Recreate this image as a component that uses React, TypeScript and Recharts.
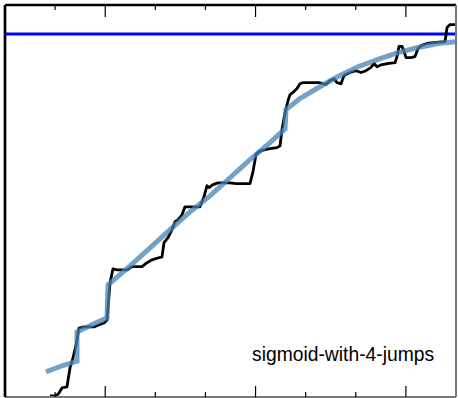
import React from 'react';
import { LineChart, Line, XAxis, YAxis, ReferenceLine } from 'recharts';

// Noisy step series (black)
const stepX = [
  0.898, 1.018, 1.078, 1.137, 1.237, 1.297, 1.357, 1.417, 1.477, 1.577, 1.776, 1.876, 1.976, 2.036,
  2.095, 2.155, 2.235, 2.435, 2.534, 2.734, 2.834, 2.934, 3.053, 3.133, 3.173, 3.253, 3.333, 3.393,
  3.452, 3.532, 3.592, 3.891, 3.971, 4.031, 4.071, 4.151, 4.251, 4.49, 4.61, 4.889, 4.949, 5.009,
  5.069, 5.169, 5.288, 5.428, 5.488, 5.528, 5.588, 5.648, 5.688, 5.747, 5.827, 5.887, 5.947, 6.266,
  6.406, 6.486, 6.566, 6.625, 6.705, 6.765, 6.885, 7.005, 7.104, 7.204, 7.304, 7.364, 7.424, 7.523,
  7.663, 7.783, 7.823, 7.863, 7.923, 7.963, 8.003, 8.102, 8.182, 8.242, 8.302, 8.422, 8.601, 8.781,
  8.821, 8.881, 9.0,
];
const stepY = [
  0.003, 0.003, 0.011, 0.025, 0.028, 0.08, 0.108, 0.143, 0.19, 0.193, 0.193, 0.199, 0.204, 0.212,
  0.314, 0.353, 0.35, 0.35, 0.359, 0.359, 0.37, 0.378, 0.383, 0.386, 0.425, 0.439, 0.461, 0.483,
  0.488, 0.502, 0.524, 0.524, 0.552, 0.582, 0.577, 0.585, 0.59, 0.59, 0.588, 0.588, 0.621, 0.668,
  0.676, 0.681, 0.684, 0.687, 0.692, 0.737, 0.783, 0.817, 0.833, 0.839, 0.85, 0.863, 0.866, 0.866,
  0.861, 0.872, 0.877, 0.866, 0.863, 0.886, 0.894, 0.899, 0.894, 0.899, 0.908, 0.919, 0.91, 0.916,
  0.919, 0.921, 0.938, 0.966, 0.966, 0.952, 0.935, 0.935, 0.938, 0.96, 0.968, 0.974, 0.977, 0.979,
  1.018, 1.026, 1.026,
];

// Sigmoid with jumps (light blue)
const fitX = [
  0.818, 1.137, 1.437, 1.437, 1.736, 2.036, 2.056, 2.495, 2.894, 3.293, 3.692, 4.091, 4.49, 4.889,
  5.288, 5.588, 5.608, 5.887, 6.246, 6.645, 7.044, 7.444, 7.843, 8.242, 8.641, 9.0,
];
const fitY = [
  0.069, 0.086, 0.099, 0.179, 0.199, 0.218, 0.309, 0.361, 0.411, 0.461, 0.51, 0.554, 0.604, 0.654,
  0.701, 0.739, 0.792, 0.822, 0.852, 0.883, 0.91, 0.93, 0.949, 0.963, 0.974, 0.979,
];

const targetLevel = 1.0;
const minorTicks = [1, 3, 4, 6, 7];
const majorTicks = [2, 5, 8];
const xDomain: [number, number] = [0, 9];
const yDomain: [number, number] = [0, 1.08];
const labelText = 'sigmoid-with-4-jumps';

const stepData = stepX.map((x, i) => ({ x, y: stepY[i] }));
const fitData = fitX.map((x, i) => ({ x, y: fitY[i] }));

const noLabel = () => '';
const THIN = 0.01;

export default function App() {
  return (
    <div style={{ position: 'absolute', left: 0, top: 0, width: 458, height: 398, background: '#fff' }}>
      <LineChart width={458} height={398} margin={{ top: 5, right: 2, bottom: 1, left: 5 }}>
        <XAxis
          xAxisId="b1" dataKey="x" type="number" domain={xDomain} ticks={minorTicks} interval={0}
          orientation="bottom" height={THIN} mirror tickSize={5} tickFormatter={noLabel}
          axisLine={{ stroke: '#777', strokeWidth: 2 }} tickLine={{ stroke: '#000', strokeWidth: 1.2 }}
          allowDataOverflow
        />
        <XAxis
          xAxisId="b2" dataKey="x" type="number" domain={xDomain} ticks={majorTicks} interval={0}
          orientation="bottom" height={THIN} mirror tickSize={11} tickFormatter={noLabel}
          axisLine={false} tickLine={{ stroke: '#000', strokeWidth: 1.2 }}
          allowDataOverflow
        />
        <XAxis
          xAxisId="t1" dataKey="x" type="number" domain={xDomain} ticks={minorTicks} interval={0}
          orientation="top" height={THIN} mirror tickSize={5} tickFormatter={noLabel}
          axisLine={{ stroke: '#000', strokeWidth: 2.7 }} tickLine={{ stroke: '#000', strokeWidth: 1.2 }}
          allowDataOverflow
        />
        <XAxis
          xAxisId="t2" dataKey="x" type="number" domain={xDomain} ticks={majorTicks} interval={0}
          orientation="top" height={THIN} mirror tickSize={12} tickFormatter={noLabel}
          axisLine={false} tickLine={{ stroke: '#000', strokeWidth: 1.2 }}
          allowDataOverflow
        />
        <YAxis
          yAxisId="l" type="number" domain={yDomain} width={THIN} mirror tick={false} tickLine={false}
          axisLine={{ stroke: '#000', strokeWidth: 2.7 }} allowDataOverflow
        />
        <YAxis
          yAxisId="r" orientation="right" type="number" domain={yDomain} width={THIN} mirror tick={false}
          tickLine={false} axisLine={{ stroke: '#777', strokeWidth: 2 }} allowDataOverflow
        />
        <ReferenceLine xAxisId="b1" yAxisId="l" y={targetLevel} stroke="#0000ff" strokeWidth={3} />
        <Line
          xAxisId="b1" yAxisId="l" data={stepData} dataKey="y" type="linear" stroke="#000"
          strokeWidth={2.8} dot={false} isAnimationActive={false} strokeLinejoin="round"
        />
        <Line
          xAxisId="b1" yAxisId="l" data={fitData} dataKey="y" type="linear" stroke="steelblue"
          strokeOpacity={0.75} strokeWidth={5} dot={false} isAnimationActive={false}
        />
        <text
          x={252} y={360.7}
          style={{ fontFamily: '"Liberation Sans", Arial, sans-serif', fontSize: 19.3, fill: '#000' }}
        >
          {labelText}
        </text>
      </LineChart>
    </div>
  );
}
